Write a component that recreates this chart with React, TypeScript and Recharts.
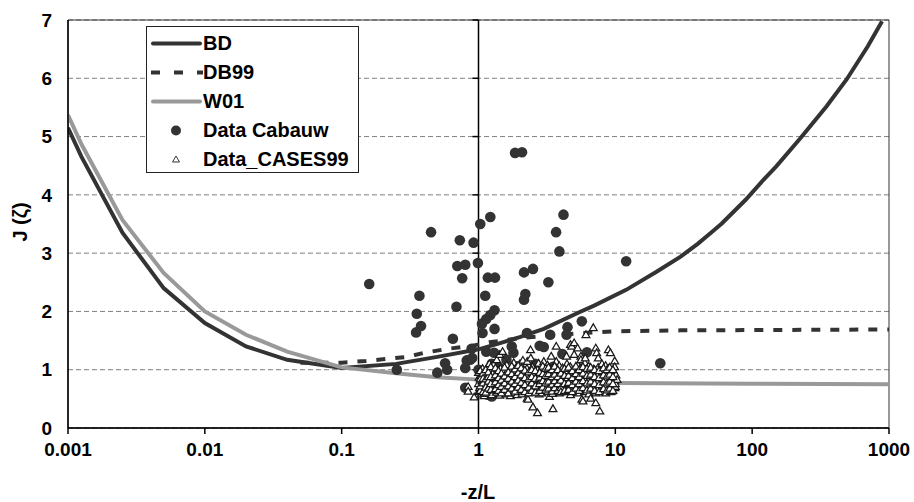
import {
  ComposedChart,
  Line,
  Scatter,
  XAxis,
  YAxis,
  CartesianGrid,
  ReferenceLine,
  ReferenceArea,
} from 'recharts';

const X_TICKS = [0.001, 0.01, 0.1, 1, 10, 100, 1000];
const Y_TICKS = [0, 1, 2, 3, 4, 5, 6, 7];

// BD curve
const BD_X = [0.001, 0.00125, 0.0025, 0.005, 0.01, 0.02, 0.04, 0.1, 0.25, 0.5, 1, 1.5, 2, 3, 5.5, 7, 12, 20, 30, 40, 50, 60, 90, 120, 150, 225, 350, 490, 700, 890];
const BD_J = [5.15, 4.66, 3.35, 2.4, 1.8, 1.4, 1.17, 1.03, 1.1, 1.22, 1.35, 1.47, 1.56, 1.7, 1.99, 2.1, 2.37, 2.68, 2.94, 3.16, 3.35, 3.51, 3.92, 4.25, 4.49, 4.97, 5.52, 5.98, 6.55, 6.98];

// DB99 curve
const DB99_X = [0.05, 0.1, 0.15, 0.2, 0.3, 0.4, 0.6, 0.85, 1.2, 2, 3, 6, 10, 30, 100, 300, 1000];
const DB99_J = [1.12, 1.12, 1.15, 1.18, 1.22, 1.29, 1.36, 1.4, 1.47, 1.54, 1.58, 1.63, 1.66, 1.675, 1.68, 1.685, 1.69];

// W01 curve
const W01_X = [0.001, 0.00126, 0.0025, 0.005, 0.01, 0.02, 0.04, 0.1, 0.27, 0.5, 1, 3, 10, 100, 1000];
const W01_J = [5.37, 4.86, 3.57, 2.66, 2.0, 1.6, 1.31, 1.04, 0.93, 0.87, 0.83, 0.8, 0.77, 0.76, 0.75];

// Data Cabauw  [-z/L, J]
const CABAUW: [number, number][] = [
  [1.85, 4.72], [2.08, 4.73], [0.45, 3.36], [0.73, 3.22], [0.92, 3.18], [1.03, 3.5], [1.22, 3.62],
  [0.7, 2.78], [0.8, 2.8], [0.99, 2.83], [0.76, 2.57], [1.17, 2.58], [1.32, 2.58], [4.18, 3.66],
  [3.69, 3.36], [3.9, 3.03], [2.15, 2.67], [2.5, 2.73], [3.24, 2.5], [12.0, 2.86], [0.37, 2.27],
  [0.354, 1.96], [0.38, 1.75], [0.35, 1.64], [0.69, 2.08], [1.12, 2.27], [2.2, 2.3], [2.15, 2.2],
  [1.31, 2.02], [1.22, 1.94], [1.14, 1.87], [1.06, 1.79], [1.07, 1.63], [1.31, 1.7], [5.69, 1.83],
  [4.47, 1.73], [3.34, 1.6], [2.26, 1.63], [0.65, 1.53], [0.89, 1.36], [0.9, 1.2], [0.87, 1.17],
  [0.82, 1.16], [0.8, 1.03], [1.0, 1.0], [0.59, 1.0], [0.5, 0.95], [0.57, 1.11], [1.14, 1.31],
  [0.8, 0.69], [1.17, 0.57], [1.6, 1.17], [1.8, 1.29], [1.75, 1.4], [4.4, 1.6], [2.8, 1.41],
  [3.0, 1.39], [4.1, 1.27], [6.2, 1.3], [1.3, 1.29], [0.159, 2.47], [0.253, 1.0], [21.3, 1.11],
  [1.25, 1.1], [1.4, 1.05], [1.5, 0.98], [1.3, 0.9], [1.6, 0.85], [1.9, 0.89], [2.15, 0.83],
  [2.4, 0.8], [2.7, 0.74], [3.2, 0.77], [3.7, 0.83], [4.4, 0.8], [6.2, 1.0], [1.15, 0.83],
  [1.35, 0.77], [1.25, 0.54], [1.9, 1.06], [2.3, 0.95], [2.0, 1.0], [1.7, 0.72], [3.0, 0.95],
  [3.5, 1.05], [2.6, 1.1], [4.0, 0.95], [5.0, 0.9], [1.1, 0.75], [1.45, 0.65],
];

// Data_CASES99  [-z/L, J]
const CASES99: [number, number][] = [
  [0.84, 0.71], [0.84, 0.63], [0.93, 0.53],
  [1.0, 0.62], [1.0, 0.76], [1.01, 0.87], [1.0, 0.95], [1.02, 0.69],
  [1.05, 0.58], [1.06, 0.81], [1.04, 0.9], [1.07, 1.02], [1.05, 0.67],
  [1.1, 0.6], [1.11, 0.73], [1.09, 0.88], [1.12, 0.97], [1.1, 0.55],
  [1.15, 0.66], [1.16, 0.79], [1.14, 0.92], [1.17, 1.05], [1.15, 0.59],
  [1.2, 0.63], [1.21, 0.74], [1.19, 0.84], [1.22, 1.0], [1.2, 1.1],
  [1.25, 1.0], [1.26, 0.71], [1.24, 0.81], [1.27, 0.93], [1.25, 0.57],
  [1.29, 1.09], [1.3, 0.65], [1.31, 0.87], [1.28, 0.76],
  [1.36, 1.17], [1.35, 0.61], [1.37, 0.82], [1.38, 0.95], [1.34, 0.7],
  [1.43, 1.26], [1.42, 0.68], [1.44, 0.78], [1.41, 0.9], [1.45, 1.02], [1.43, 0.56],
  [1.5, 1.31], [1.51, 0.73], [1.49, 0.86], [1.52, 0.99], [1.5, 0.63],
  [1.58, 0.58], [1.6, 0.7], [1.62, 0.81], [1.59, 0.94], [1.61, 1.08],
  [1.68, 0.64], [1.7, 0.76], [1.72, 0.89], [1.69, 1.0], [1.71, 0.55],
  [1.78, 0.6], [1.8, 0.72], [1.82, 0.84], [1.79, 0.97], [1.81, 1.12],
  [1.88, 0.67], [1.9, 0.79], [1.92, 0.91], [1.89, 1.04], [1.91, 0.57],
  [1.98, 0.62], [2.0, 0.74], [2.02, 0.86], [1.99, 0.99], [2.01, 1.1],
  [2.08, 0.58], [2.1, 0.7], [2.12, 0.82], [2.09, 0.95], [2.11, 1.16],
  [2.27, 0.51], [2.27, 1.14], [2.25, 0.66], [2.29, 0.78], [2.23, 0.9], [2.26, 1.02], [2.3, 0.49],
  [2.4, 1.34], [2.41, 1.2], [2.38, 0.61], [2.42, 0.73], [2.39, 0.85], [2.43, 0.97],
  [2.5, 0.36], [2.49, 0.68], [2.53, 0.8], [2.51, 0.92], [2.48, 1.05],
  [2.7, 0.26], [2.68, 0.63], [2.72, 0.75], [2.69, 0.88], [2.71, 1.0],
  [2.75, 1.11], [2.77, 0.58], [2.74, 0.7], [2.78, 0.83],
  [2.9, 0.66], [2.92, 0.78], [2.88, 0.9], [2.91, 1.03], [2.89, 0.6],
  [3.0, 1.14], [3.02, 0.72], [2.98, 0.85], [3.01, 0.97],
  [3.2, 0.62], [3.22, 0.74], [3.18, 0.87], [3.21, 0.99], [3.19, 1.08],
  [3.3, 0.54], [3.4, 1.23], [3.42, 0.68], [3.38, 0.8], [3.41, 0.93],
  [3.5, 0.33], [3.48, 0.59], [3.52, 0.72], [3.49, 0.84], [3.51, 0.96],
  [3.7, 1.4], [3.7, 1.14], [3.68, 0.65], [3.72, 0.77], [3.69, 0.89], [3.71, 1.02],
  [3.9, 0.6], [3.92, 0.71], [3.88, 0.83], [3.91, 0.95], [3.89, 1.07],
  [4.1, 0.66], [4.12, 0.79], [4.08, 0.91], [4.11, 1.03],
  [4.4, 1.23], [4.42, 0.62], [4.38, 0.74], [4.41, 0.86], [4.39, 0.98], [4.43, 1.1],
  [4.7, 1.43], [4.7, 0.57], [4.72, 0.69], [4.68, 0.81], [4.71, 0.93], [4.69, 1.05], [4.8, 1.4],
  [5.0, 1.46], [5.0, 1.26], [5.02, 0.64], [4.98, 0.76], [5.01, 0.88], [4.99, 1.0],
  [5.3, 1.37], [5.32, 0.6], [5.28, 0.72], [5.31, 0.84], [5.29, 0.96], [5.33, 1.08],
  [5.6, 1.23], [5.6, 1.17], [5.62, 0.67], [5.58, 0.79], [5.61, 0.91], [5.59, 1.03],
  [5.7, 0.49], [5.8, 0.46],
  [6.0, 0.62], [6.02, 0.74], [5.98, 0.86], [6.01, 0.98], [5.99, 1.12], [6.03, 1.2], [6.1, 1.6],
  [6.4, 0.58], [6.42, 0.7], [6.38, 0.82], [6.41, 0.94], [6.39, 1.06], [6.6, 0.51],
  [6.9, 1.72], [6.88, 0.65], [6.92, 0.77], [6.89, 0.89], [6.91, 1.01],
  [7.2, 1.37], [7.2, 0.43], [7.22, 0.6], [7.18, 0.72], [7.21, 0.85], [7.19, 0.97], [7.3, 1.29],
  [7.5, 1.2], [7.52, 0.68], [7.48, 0.8], [7.51, 0.92], [7.49, 1.04], [7.7, 0.29],
  [8.0, 0.63], [8.02, 0.75], [7.98, 0.87], [8.01, 0.99], [7.99, 1.1],
  [8.5, 0.6], [8.52, 0.71], [8.48, 0.83], [8.51, 0.95], [8.49, 1.07],
  [8.9, 1.34], [8.92, 0.66], [8.88, 0.78], [8.91, 0.9], [8.89, 1.02],
  [9.2, 1.29], [9.22, 0.62], [9.18, 0.74], [9.21, 0.86], [9.19, 0.98], [9.4, 0.63],
  [9.9, 1.15], [9.92, 0.69], [9.88, 0.81], [9.91, 0.93], [9.89, 1.05],
  [10.0, 0.71], [10.0, 0.76], [10.1, 0.91], [10.3, 0.83],
  [1.03, 0.64], [1.03, 0.84], [1.03, 0.98], [1.03, 0.72],
  [1.08, 0.62], [1.08, 0.77], [1.08, 0.94], [1.08, 0.85],
  [1.13, 0.7], [1.13, 0.84], [1.13, 1.0], [1.13, 0.61],
  [1.18, 0.68], [1.18, 0.88], [1.18, 0.8], [1.18, 0.96],
  [1.23, 0.66], [1.23, 0.76], [1.23, 0.88], [1.23, 1.05],
  [1.33, 0.67], [1.33, 0.79], [1.33, 0.91], [1.33, 1.03],
  [1.4, 0.64], [1.4, 0.74], [1.4, 0.86], [1.4, 0.98],
  [1.47, 0.6], [1.47, 0.82], [1.47, 0.94], [1.47, 0.71],
  [1.55, 0.66], [1.55, 0.77], [1.55, 0.89], [1.55, 1.04],
  [1.65, 0.6], [1.65, 0.72], [1.65, 0.85], [1.65, 0.96],
  [1.75, 0.68], [1.75, 0.8], [1.75, 0.93], [1.75, 1.06],
  [1.85, 0.63], [1.85, 0.76], [1.85, 0.88], [1.85, 1.01],
  [1.95, 0.7], [1.95, 0.82], [1.95, 0.95], [1.95, 1.07],
  [2.05, 0.66], [2.05, 0.78], [2.05, 0.91], [2.05, 1.03],
  [2.18, 0.62], [2.18, 0.74], [2.18, 0.86], [2.18, 0.99],
  [2.33, 0.6], [2.33, 0.7], [2.33, 0.84], [2.33, 0.96],
  [2.45, 0.64], [2.45, 0.77], [2.45, 0.88], [2.45, 1.0],
  [2.6, 0.61], [2.6, 0.72], [2.6, 0.85], [2.6, 0.98],
  [2.8, 0.64], [2.8, 0.76], [2.8, 0.87], [2.8, 0.95],
  [2.95, 0.7], [2.95, 0.81], [2.95, 0.93], [2.95, 1.06],
  [3.1, 0.65], [3.1, 0.77], [3.1, 0.9], [3.1, 1.02],
  [3.25, 0.68], [3.25, 0.8], [3.25, 0.93], [3.25, 1.04],
  [3.45, 0.63], [3.45, 0.75], [3.45, 0.88], [3.45, 1.0],
  [3.6, 0.69], [3.6, 0.81], [3.6, 0.92], [3.6, 1.06],
  [3.8, 0.64], [3.8, 0.76], [3.8, 0.88], [3.8, 1.0],
  [4.0, 0.69], [4.0, 0.82], [4.0, 0.94], [4.0, 0.62],
  [4.25, 0.64], [4.25, 0.76], [4.25, 0.9], [4.25, 1.02],
  [4.55, 0.66], [4.55, 0.78], [4.55, 0.9], [4.55, 1.04],
  [4.85, 0.62], [4.85, 0.74], [4.85, 0.86], [4.85, 0.98],
  [5.15, 0.68], [5.15, 0.8], [5.15, 0.93], [5.15, 1.06],
  [5.45, 0.64], [5.45, 0.76], [5.45, 0.88], [5.45, 1.0],
  [5.8, 0.69], [5.8, 0.81], [5.8, 0.94], [5.8, 1.05],
  [6.2, 0.65], [6.2, 0.77], [6.2, 0.9], [6.2, 1.02],
  [6.6, 0.68], [6.6, 0.8], [6.6, 0.92], [6.6, 1.04],
  [7.05, 0.64], [7.05, 0.76], [7.05, 0.88], [7.05, 1.0],
  [7.6, 0.62], [7.6, 0.74], [7.6, 0.86], [7.6, 0.98],
  [8.2, 0.67], [8.2, 0.79], [8.2, 0.91], [8.2, 1.03],
  [8.7, 0.65], [8.7, 0.77], [8.7, 0.89], [8.7, 1.0],
  [9.1, 0.68], [9.1, 0.8], [9.1, 0.92], [9.1, 1.04],
  [9.6, 0.64], [9.6, 0.76], [9.6, 0.88], [9.6, 1.0],
];

const DARK = '#333333';
const GREY = '#999999';
const FONT = '"Liberation Sans", Arial, sans-serif';

const toPts = (xs: number[], ys: number[]) => xs.map((x, i) => ({ x, y: ys[i] }));
const bdData = toPts(BD_X, BD_J);
const db99Data = toPts(DB99_X, DB99_J);
const w01Data = toPts(W01_X, W01_J);
const cabauwData = CABAUW.map(([x, y]) => ({ x, y }));
const casesData = CASES99.map(([x, y]) => ({ x, y }));

const Dot = (p: any) => <circle cx={p.cx} cy={p.cy} r={5.3} fill={DARK} />;
const Tri = (p: any) => (
  <path
    d={`M${p.cx},${p.cy - 3.9}L${p.cx + 3.9},${p.cy + 2.8}L${p.cx - 3.9},${p.cy + 2.8}Z`}
    fill="#fff"
    stroke="#1a1a1a"
    strokeWidth={1.25}
  />
);

// vertical axis line crossing at -z/L = 1, with small ticks pointing left
const AxisAtOne = (p: any) => {
  const top = Math.min(p.y1, p.y2);
  const bottom = Math.max(p.y1, p.y2);
  const ticks = [1, 2, 3, 4, 5, 6, 7].map((k) => bottom - ((bottom - top) * k) / 7);
  return (
    <g>
      <line x1={p.x1} y1={top} x2={p.x1} y2={bottom} stroke="#000" strokeWidth={1.5} />
      {ticks.map((y, i) => (
        <line key={i} x1={p.x1 - 6} y1={y} x2={p.x1} y2={y} stroke="#000" strokeWidth={1.5} />
      ))}
    </g>
  );
};

const legendRows = [
  { name: 'BD', kind: 'solid', color: DARK },
  { name: 'DB99', kind: 'dash', color: DARK },
  { name: 'W01', kind: 'solid', color: GREY },
  { name: 'Data Cabauw', kind: 'dot', color: DARK },
  { name: 'Data_CASES99', kind: 'tri', color: DARK },
];

function ChartLegend() {
  return (
    <div
      style={{
        position: 'absolute',
        left: 146,
        top: 26,
        width: 211,
        height: 143,
        border: '1px solid #222',
        background: '#fff',
        paddingTop: 2,
      }}
    >
      {legendRows.map((r) => (
        <div key={r.name} style={{ display: 'flex', alignItems: 'center', height: 29 }}>
          <svg width={56} height={29} style={{ flexShrink: 0 }}>
            {r.kind === 'solid' && (
              <line x1={6} y1={14.5} x2={53} y2={14.5} stroke={r.color} strokeWidth={4} strokeLinecap="round" />
            )}
            {r.kind === 'dash' && (
              <line x1={4} y1={14.5} x2={56} y2={14.5} stroke={r.color} strokeWidth={4} strokeDasharray="9 14" />
            )}
            {r.kind === 'dot' && <circle cx={29} cy={14.5} r={5} fill={r.color} />}
            {r.kind === 'tri' && (
              <path d="M29,11L32.5,17L25.5,17Z" fill="#fff" stroke={r.color} strokeWidth={1} />
            )}
          </svg>
          <span style={{ fontSize: 20, fontWeight: 'bold', color: '#000', lineHeight: '29px' }}>{r.name}</span>
        </div>
      ))}
    </div>
  );
}

export default function App() {
  const tickStyle = { fontSize: 19, fontWeight: 'bold', fill: '#000', fontFamily: FONT };
  return (
    <div
      style={{
        position: 'absolute',
        left: 0,
        top: 0,
        width: 914,
        height: 502,
        fontFamily: FONT,
        background: '#fff',
      }}
    >
      <ComposedChart width={914} height={502} margin={{ top: 20, right: 25, left: 18, bottom: 34 }}>
        <CartesianGrid horizontal vertical={false} stroke="#808080" strokeDasharray="5 3" />
        <XAxis
          dataKey="x"
          type="number"
          scale="log"
          domain={[0.001, 1000]}
          ticks={X_TICKS}
          allowDataOverflow
          height={40}
          stroke="#000"
          strokeWidth={1.5}
          tickSize={6}
          tickMargin={9}
          tick={tickStyle}
          tickFormatter={(v: number) => String(v)}
        />
        <YAxis
          dataKey="y"
          type="number"
          domain={[0, 7]}
          ticks={Y_TICKS}
          allowDataOverflow
          width={50}
          stroke="#000"
          strokeWidth={1.5}
          tickLine={false}
          tickMargin={10}
          tick={tickStyle}
        />
        <ReferenceArea x1={0.001} x2={1000} y1={0} y2={7} fill="none" stroke="#333" strokeWidth={1} />
        <ReferenceLine x={1} shape={AxisAtOne} />
        <Line data={bdData} dataKey="y" type="linear" stroke={DARK} strokeWidth={4} dot={false} isAnimationActive={false} />
        <Line
          data={db99Data}
          dataKey="y"
          type="linear"
          stroke={DARK}
          strokeWidth={4}
          strokeDasharray="9 10"
          dot={false}
          isAnimationActive={false}
        />
        <Line data={w01Data} dataKey="y" type="linear" stroke={GREY} strokeWidth={4} dot={false} isAnimationActive={false} />
        <Scatter data={cabauwData} dataKey="y" shape={Dot} isAnimationActive={false} />
        <Scatter data={casesData} dataKey="y" shape={Tri} isAnimationActive={false} />
      </ComposedChart>
      <ChartLegend />
      <div
        style={{
          position: 'absolute',
          left: 20,
          top: 222,
          transform: 'translate(-50%, -50%) rotate(-90deg)',
          fontSize: 20,
          fontWeight: 'bold',
          whiteSpace: 'nowrap',
        }}
      >
        J (ζ)
      </div>
      <div
        style={{
          position: 'absolute',
          left: 478,
          top: 492,
          transform: 'translate(-50%, -50%)',
          fontSize: 20,
          fontWeight: 'bold',
        }}
      >
        -z/L
      </div>
    </div>
  );
}
